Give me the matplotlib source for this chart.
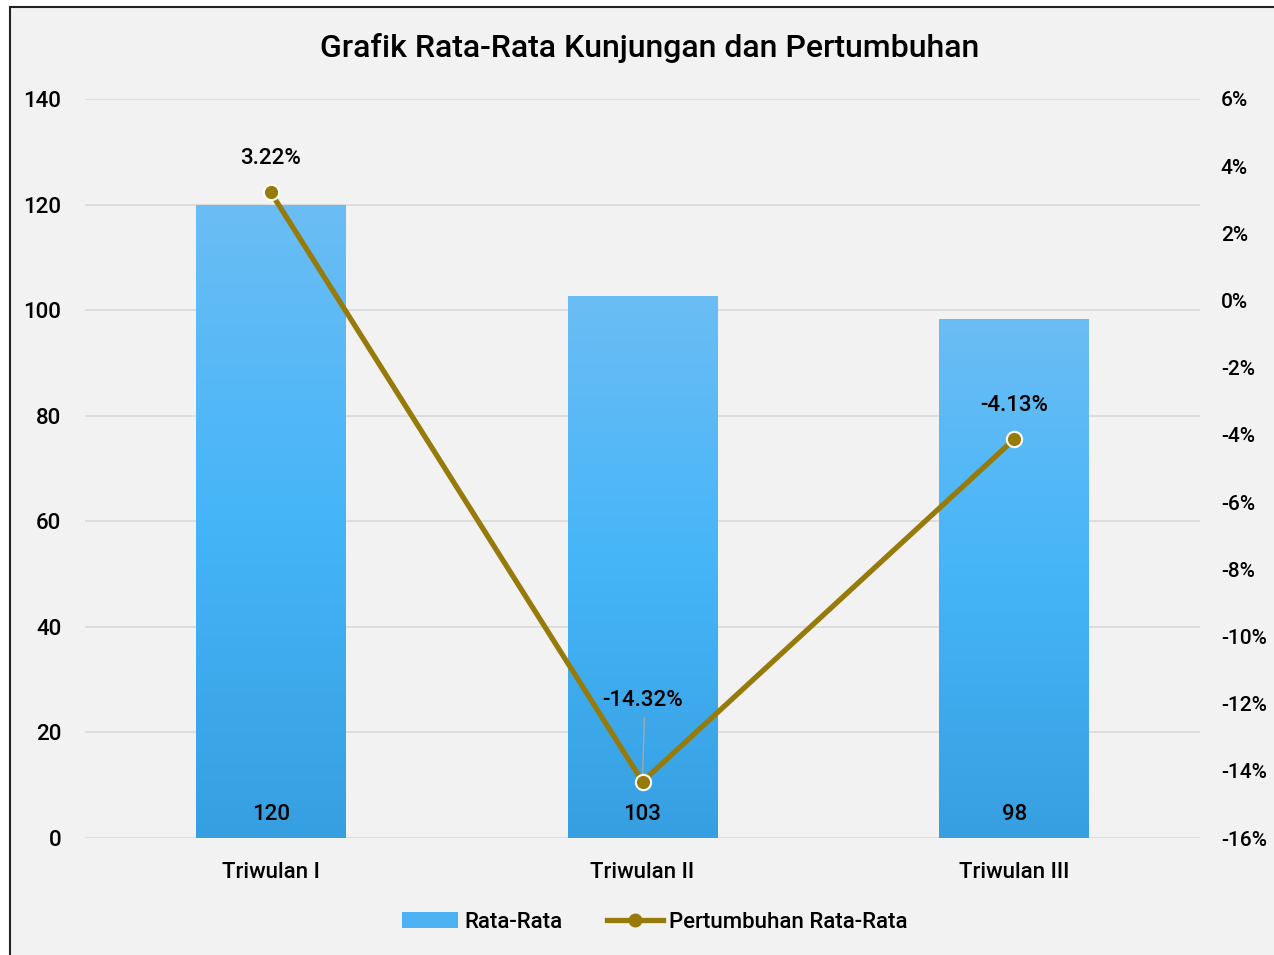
import numpy as np
import matplotlib.pyplot as plt
from matplotlib.patches import Rectangle
from matplotlib.colors import LinearSegmentedColormap
from matplotlib.lines import Line2D

categories = ["Triwulan I", "Triwulan II", "Triwulan III"]
rata_rata = [120, 102.7, 98.4]
pertumbuhan = [3.22, -14.32, -4.13]

plt.rcParams["font.family"] = ["Roboto", "DejaVu Sans"]
plt.rcParams["font.weight"] = "medium"

bg = "#F2F2F2"
line_color = "#967B0B"
fs = 16
fig = plt.figure(figsize=(12.74, 9.55), dpi=100)
fig.patch.set_facecolor("white")
# chart area with dark border (extends past right/bottom edges)
fig.patches.append(Rectangle((10 / 1274, -0.01), 1.02, (955 - 7) / 955 + 0.01,
                             transform=fig.transFigure, facecolor=bg,
                             edgecolor="#222222", linewidth=1.5, zorder=-10))

ax = fig.add_axes([85 / 1274, 117 / 955, 1115 / 1274, 739 / 955])
ax.set_facecolor("none")
x = np.arange(len(categories))
width = 0.403

ax.grid(axis="y", color="#D9D9D9", linewidth=1.2)
ax.set_axisbelow(True)
for s in ax.spines.values():
    s.set_visible(False)
ax.tick_params(length=0, labelsize=fs, pad=17)
ax.tick_params(axis="x", pad=17)

# gradient bars
cmap = LinearSegmentedColormap.from_list("bar", ["#369FE1", "#45B5F8", "#6BBDF4"])
grad = np.linspace(0, 1, 256).reshape(-1, 1)
bars = ax.bar(x, rata_rata, width, color="none", zorder=2)
for b in bars:
    bx, by = b.get_x(), b.get_y()
    im = ax.imshow(grad, cmap=cmap, origin="lower", aspect="auto",
                   extent=[bx, bx + b.get_width(), by, by + b.get_height()], zorder=2)
    im.set_clip_path(b)
ax.set_xlim(-0.5, 2.5)
ax.set_ylim(0, 140)
ax.set_yticks(range(0, 141, 20))
ax.set_xticks(x)
ax.set_xticklabels(categories)
for xi, v in zip(x, rata_rata):
    ax.text(xi, 4.5, f"{round(v)}", ha="center", va="center", fontsize=fs, zorder=5)

# growth line on secondary axis
ax2 = ax.twinx()
ax2.set_ylim(-16, 6)
ax2.set_yticks(range(-16, 7, 2))
ax2.set_yticklabels([f"{t}%" for t in range(-16, 7, 2)])
for s in ax2.spines.values():
    s.set_visible(False)
ax2.tick_params(length=0, labelsize=15, pad=15)
ax2.plot(x, pertumbuhan, color=line_color, linewidth=3.8, marker="o",
         markersize=11, markerfacecolor=line_color, markeredgecolor="white",
         markeredgewidth=1.5, zorder=4)

label_offsets = [0.7, 2.1, 0.7]
for xi, p, off in zip(x, pertumbuhan, label_offsets):
    ax2.text(xi, p + off, f"{p:.2f}%", ha="center", va="bottom", fontsize=fs, zorder=5)
# leader line for the middle label
ax2.plot([x[1] + 0.005, x[1]], [pertumbuhan[1] + 1.9, pertumbuhan[1] + 0.1],
         color="#A6A6A6", linewidth=1, zorder=3)

fig.text(650 / 1274, 1 - 48 / 955, "Grafik Rata-Rata Kunjungan dan Pertumbuhan",
         ha="center", va="center", fontsize=23)

handles = [Rectangle((0, 0), 1, 1, facecolor="#4DB2F4"),
           Line2D([], [], color=line_color, linewidth=3.8, marker="o",
                  markersize=9, markerfacecolor=line_color)]
fig.legend(handles, ["Rata-Rata", "Pertumbuhan Rata-Rata"], loc="center",
           bbox_to_anchor=(655 / 1274, 1 - 922 / 955), ncol=2, frameon=False,
           fontsize=fs, handlelength=2.5, columnspacing=2.0, handletextpad=0.3)

fig.savefig("out.png", dpi=100, facecolor=fig.get_facecolor())
